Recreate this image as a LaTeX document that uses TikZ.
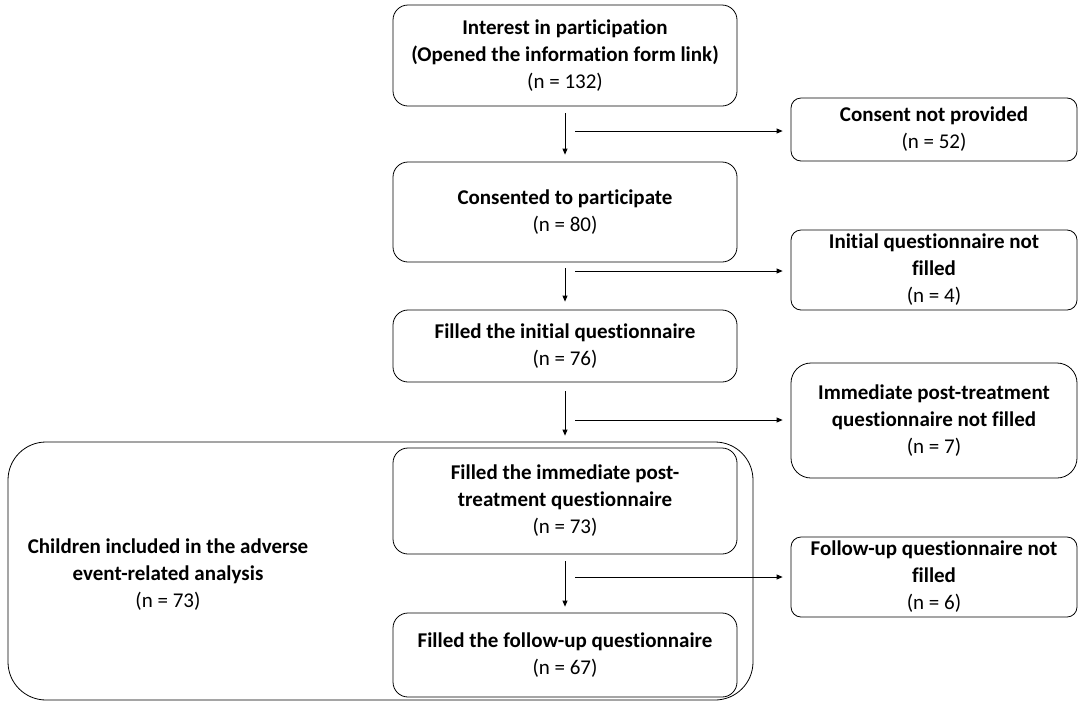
\documentclass[tikz,border=0pt]{standalone}
\usepackage{fontspec}
\setmainfont{Carlito}[Ligatures=NoCommon]
\usetikzlibrary{arrows.meta}
\usetikzlibrary{positioning}

\begin{document}
\begin{tikzpicture}[x=1pt,y=-1pt]
	\useasboundingbox (0,0) rectangle (1078,702);
	\tikzset{every node/.style={font=\fontsize{21}{27}\selectfont, align=center}}

	% frame round the analysed children
	\node[draw, line width=0.8pt, rounded corners=38pt,
	      minimum width=745pt, minimum height=258pt] (10) at (380.5,571) {};
	\node (11) at (168,575) {\textbf{Children included in the adverse}\\\textbf{event-related analysis}\\(n = 73)};

	\begin{scope}[every node/.style={draw, line width=0.8pt, rounded corners=15pt,
	              minimum width=344pt, inner sep=0pt, align=center,
	              font=\fontsize{21}{27}\selectfont}]
		\node[minimum height=101pt] (1) at (565,55.5) {\textbf{Interest in participation}\\\textbf{(Opened the information form link)}\\(n = 132)};
		\node[minimum height=100pt] (2) at (565,212) {\textbf{Consented to participate}\\(n = 80)};
		\node[minimum height=72pt] (3) at (565,346) {\textbf{Filled the initial questionnaire}\\(n = 76)};
		\node[minimum height=106pt] (4) at (565,501) {\textbf{Filled the immediate post-}\\\textbf{treatment questionnaire}\\(n = 73)};
		\node[minimum height=84pt] (5) at (565,655) {\textbf{Filled the follow-up questionnaire}\\(n = 67)};
	\end{scope}

	\begin{scope}[every node/.style={draw, line width=0.8pt, rounded corners=10pt,
	              minimum width=286pt, inner sep=0pt, align=center,
	              font=\fontsize{21}{27}\selectfont}]
		\node[minimum height=63pt] (6) at (934,129.5) {\textbf{Consent not provided}\\(n = 52)};
		\node[minimum height=80pt] (7) at (934,270) {\textbf{Initial questionnaire not}\\\textbf{filled}\\(n = 4)};
		\node[minimum height=115pt, rounded corners=20pt] (8) at (934,420.5) {\textbf{Immediate post-treatment}\\\textbf{questionnaire not filled}\\(n = 7)};
		\node[minimum height=80pt] (9) at (934,577) {\textbf{Follow-up questionnaire not}\\\textbf{filled}\\(n = 6)};
	\end{scope}

	\coordinate (a1) at (575,131);
	\coordinate (a2) at (575,271);
	\coordinate (a3) at (575,420);
	\coordinate (a4) at (575,577);

	\begin{scope}[>={Triangle[length=6pt,width=5pt]}, line width=0.8pt]
		\draw[->, shorten <=7pt, shorten >=7pt] (1.south) -- (2.north);
		\draw[->, shorten <=6pt, shorten >=8pt] (2.south) -- (3.north);
		\draw[->, shorten <=9pt, shorten >=12pt] (3.south) -- (4.north);
		\draw[->, shorten <=7pt, shorten >=6pt] (4.south) -- (5.north);
		\foreach \i/\j in {1/6,2/7,3/8,4/9}
		{\draw[->, shorten >=8pt] (a\i) -- (a\i -| \j.west);}
	\end{scope}
\end{tikzpicture}
\end{document}
